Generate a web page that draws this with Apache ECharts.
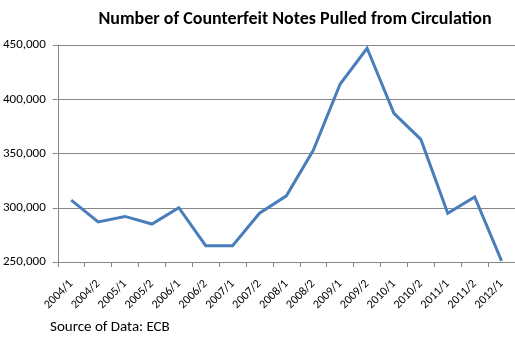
<!DOCTYPE html>
<html>
<head>
<meta charset="utf-8">
<script src="https://cdn.jsdelivr.net/npm/echarts@6/dist/echarts.min.js"></script>
<style>
  html, body { margin: 0; padding: 0; background: #fff; }
  #chart { width: 515px; height: 348px; }
</style>
</head>
<body>
<div id="chart"></div>
<script>
// Half-year periods
const periods = ['2004/1','2004/2','2005/1','2005/2','2006/1','2006/2','2007/1','2007/2',
  '2008/1','2008/2','2009/1','2009/2','2010/1','2010/2','2011/1','2011/2','2012/1'];
// Counterfeit euro banknotes withdrawn from circulation per half-year
const counterfeits = [307000, 287000, 292000, 285000, 300000, 265000, 265000, 295000,
  311000, 353000, 414000, 447000, 387000, 363000, 295000, 310000, 251000];
const yMin = 250000, yMax = 450000, yStep = 50000;

const chart = echarts.init(document.getElementById('chart'), null, { renderer: 'canvas' });
const font = 'Calibri, Carlito, Lato, "Open Sans", "Liberation Sans", sans-serif';
chart.setOption({
  animation: false,
  backgroundColor: '#ffffff',
  title: {
    text: 'Number of Counterfeit Notes Pulled from Circulation',
    left: 290, top: 5, textAlign: 'center',
    textStyle: { fontFamily: font, fontWeight: 'bold', fontSize: 18, color: '#000' }
  },
  graphic: [{
    type: 'text', left: 50, top: 320,
    style: { text: 'Source of Data: ECB', font: '15px ' + font, fill: '#000' }
  }],
  grid: { left: 57, top: 45, width: 463.5, height: 217 },
  xAxis: {
    type: 'category', data: periods, boundaryGap: true,
    axisLine: { lineStyle: { color: '#868686', width: 1 } },
    axisTick: { show: true, length: 5, lineStyle: { color: '#868686' } },
    axisLabel: { rotate: 45, interval: 0, fontFamily: font, fontSize: 12, color: '#000', margin: 20 }
  },
  yAxis: {
    type: 'value', min: yMin, max: yMax, interval: yStep,
    axisLine: { show: true, lineStyle: { color: '#868686' } },
    axisTick: { show: true, length: 5, inside: false, lineStyle: { color: '#868686' } },
    splitLine: { lineStyle: { color: '#868686', width: 1 } },
    axisLabel: {
      fontFamily: font, fontSize: 13, color: '#000', margin: 12,
      formatter: v => v.toLocaleString('en-US')
    }
  },
  series: [{
    type: 'line', data: counterfeits, symbol: 'none',
    lineStyle: { color: '#4a7ebb', width: 3, join: 'miter' }
  }]
});
</script>
</body>
</html>
